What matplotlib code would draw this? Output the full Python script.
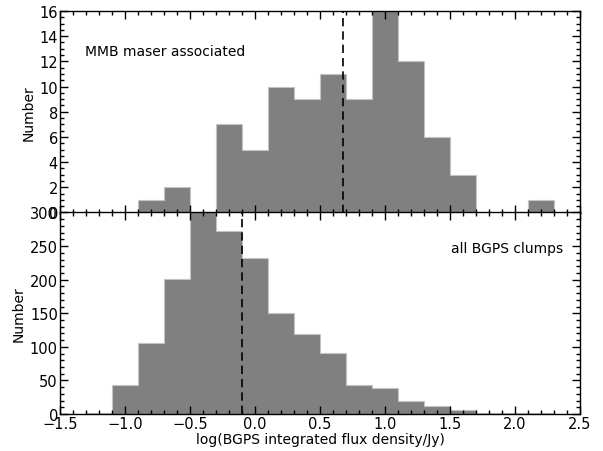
import numpy as np
import matplotlib
matplotlib.use("Agg")
import matplotlib.pyplot as plt
from matplotlib.ticker import MultipleLocator

# histogram bin edges (log flux density, width 0.2)
edges = np.round(np.arange(-1.5, 2.31, 0.2), 1)

# MMB maser associated clumps
maser_counts = [0, 0, 0, 1, 2, 0, 7, 5, 10, 9, 11, 9, 16, 12, 6, 3, 0, 0, 1]
maser_median = 0.675

# all BGPS clumps
all_counts = [0, 2, 43, 105, 201, 310, 273, 233, 151, 119, 91, 43, 39, 20, 12, 6, 2, 2, 1]
all_median = -0.098

xlabel = "log(BGPS integrated flux density/Jy)"


def style_axis(ax, ymajor, yminor):
    ax.xaxis.set_major_locator(MultipleLocator(0.5))
    ax.xaxis.set_minor_locator(MultipleLocator(0.1))
    ax.yaxis.set_major_locator(MultipleLocator(ymajor))
    ax.yaxis.set_minor_locator(MultipleLocator(yminor))
    ax.tick_params(which="both", direction="in", top=True, right=True,
                   labelsize=10.5, width=1, pad=1.5)
    ax.tick_params(which="major", length=6)
    ax.tick_params(which="minor", length=3)
    for sp in ax.spines.values():
        sp.set_linewidth(1)


fig = plt.figure(figsize=(6.03, 4.52), dpi=100)
x0, x1 = 60 / 603, 580 / 603
y_bot, y_mid, y_top = 1 - 415 / 452, 1 - 213.5 / 452, 1 - 12 / 452
ax_top = fig.add_axes([x0, y_mid, x1 - x0, y_top - y_mid])
ax_bot = fig.add_axes([x0, y_bot, x1 - x0, y_mid - y_bot], sharex=ax_top)

for ax, counts, med in [(ax_top, maser_counts, maser_median),
                        (ax_bot, all_counts, all_median)]:
    ax.stairs(counts, edges, fill=True, facecolor="#808080",
              edgecolor="#c4c4c4", linewidth=0.8)
    ax.axvline(med, color="black", linestyle=(0, (5, 3)), linewidth=1.2)

ax_top.set_xlim(-1.5, 2.5)
ax_top.set_ylim(0, 16)
ax_bot.set_ylim(0, 300)
style_axis(ax_top, 2, 0.5)
style_axis(ax_bot, 50, 10)
ax_top.tick_params(labelbottom=False)

ax_top.set_ylabel("Number", fontsize=10, labelpad=3)
ax_bot.set_ylabel("Number", fontsize=10, labelpad=3)
ax_bot.set_xlabel(xlabel, fontsize=10, labelpad=1)

ax_top.text(0.048, 0.80, "MMB maser associated", transform=ax_top.transAxes,
            fontsize=10, va="center", ha="left")
ax_bot.text(0.967, 0.824, "all BGPS clumps", transform=ax_bot.transAxes,
            fontsize=10, va="center", ha="right")

fig.savefig("out.png", dpi=100)
